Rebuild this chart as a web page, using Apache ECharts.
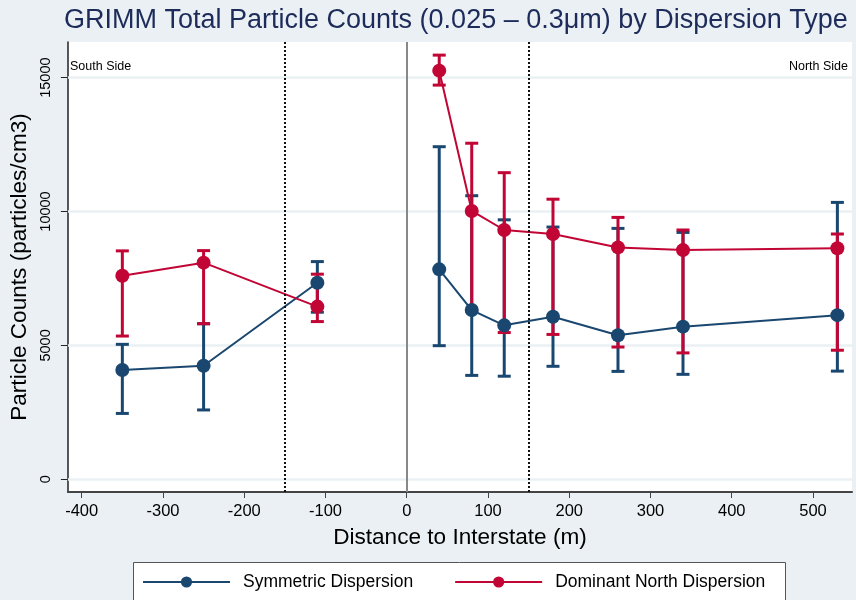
<!DOCTYPE html>
<html>
<head>
<meta charset="utf-8">
<script src="https://cdn.jsdelivr.net/npm/echarts@6/dist/echarts.min.js"></script>
<style>
html,body{margin:0;padding:0;background:#eaf0f3;}
#chart{width:856px;height:600px;}
</style>
</head>
<body>
<div id="chart"></div>
<script>
// Data
const distances = [-350, -250, -110, 40, 80, 120, 180, 260, 340, 530];
const symMean = [4080, 4240, 7340, 7840, 6320, 5750, 6070, 5380, 5700, 6130];
const symLow  = [2460, 2590, 6240, 4990, 3880, 3850, 4220, 4030, 3920, 4040];
const symHigh = [5040, 5810, 8130, 12420, 10590, 9690, 9420, 9370, 9220, 10340];
const domMean = [7600, 8090, 6450, 15260, 10020, 9310, 9160, 8660, 8560, 8630];
const domLow  = [5350, 5810, 5890, 14720, 6280, 5480, 5410, 4940, 4720, 4820];
const domHigh = [8530, 8540, 7660, 15840, 12550, 11450, 10460, 9780, 9310, 9160];
const xTicks = [-400, -300, -200, -100, 0, 100, 200, 300, 400, 500];
const yTicks = [0, 5000, 10000, 15000];
const dividerLines = [-150, 150];
const seriesNames = ['Symmetric Dispersion', 'Dominant North Dispersion'];

const BLUE = '#1a476f';
const RED = '#c10534';
const BG = '#eaf0f3';

function pairs(xs, ys, side) {
  return xs.map((x, i) => [x, ys[i]]).filter(p => side < 0 ? p[0] < 0 : p[0] > 0);
}
function triples(xs, lo, hi) { return xs.map((x, i) => [x, lo[i], hi[i]]); }

function errorBarSeries(name, color, data, z) {
  return {
    name: name,
    type: 'custom',
    data: data,
    encode: { x: 0, y: [1, 2] },
    z: z,
    silent: true,
    renderItem: function (params, api) {
      const x = api.value(0);
      const a = api.coord([x, api.value(1)]);
      const b = api.coord([x, api.value(2)]);
      const hw = 6.5;
      const st = { stroke: color, lineWidth: 3 };
      return {
        type: 'group',
        children: [
          { type: 'line', shape: { x1: a[0], y1: a[1], x2: b[0], y2: b[1] }, style: st },
          { type: 'line', shape: { x1: a[0] - hw, y1: a[1], x2: a[0] + hw, y2: a[1] }, style: st },
          { type: 'line', shape: { x1: b[0] - hw, y1: b[1], x2: b[0] + hw, y2: b[1] }, style: st }
        ]
      };
    }
  };
}

function lineSeries(name, color, data, z) {
  return {
    name: name, type: 'line', data: data, z: z,
    symbol: 'circle', symbolSize: 14,
    lineStyle: { color: color, width: 2 }, itemStyle: { color: color }
  };
}

const chart = echarts.init(document.getElementById('chart'));
const FONT = 'Liberation Sans, Arial, sans-serif';

chart.setOption({
  backgroundColor: BG,
  animation: false,
  textStyle: { fontFamily: FONT },
  title: {
    text: 'GRIMM Total Particle Counts (0.025 \u2013 0.3\u03bcm) by Dispersion Type',
    left: 59, top: 2,
    textStyle: { fontFamily: FONT, fontSize: 27, fontWeight: 'normal', color: '#1c2b5a' }
  },
  grid: { left: 66, right: 4, top: 42, bottom: 108, show: true, backgroundColor: '#ffffff', borderWidth: 0 },
  legend: {
    data: seriesNames,
    left: 142, top: 573, padding: 0,
    itemWidth: 87, itemHeight: 14, itemGap: 41,
    textStyle: { fontFamily: FONT, fontSize: 17.5, color: '#000', padding: [0, 0, 0, 8] }
  },
  graphic: [
    { type: 'rect', left: 133, top: 562, shape: { width: 652, height: 50 }, style: { fill: '#fff', stroke: '#555', lineWidth: 1 }, z: -1 },
    { type: 'text', left: 70, top: 60, style: { text: 'South Side', font: '12.5px ' + FONT, fill: '#000' } },
    { type: 'text', right: 8, top: 60, style: { text: 'North Side', font: '12.5px ' + FONT, fill: '#000' } }
  ],
  xAxis: {
    type: 'value', min: -417, max: 548,
    name: 'Distance to Interstate (m)', nameLocation: 'middle', nameGap: 34,
    nameTextStyle: { fontFamily: FONT, fontSize: 22.6, color: '#000' },
    axisLine: { show: true, onZero: false, lineStyle: { color: '#444', width: 2 } },
    axisTick: { show: true, length: 6, customValues: xTicks, lineStyle: { color: '#444', width: 1 } },
    axisLabel: { customValues: xTicks, margin: 11, fontSize: 16.5, color: '#000', fontFamily: FONT },
    splitLine: { show: false }
  },
  yAxis: {
    type: 'value', min: -474, max: 16330,
    name: 'Particle Counts (particles/cm3)', nameLocation: 'middle', nameGap: 31,
    nameTextStyle: { fontFamily: FONT, fontSize: 22.6, color: '#000' },
    axisLine: { show: true, onZero: false, lineStyle: { color: '#222', width: 1.5 } },
    axisTick: { show: true, length: 7, customValues: yTicks, lineStyle: { color: '#222', width: 1 } },
    axisLabel: { customValues: yTicks, rotate: 90, margin: 14, fontSize: 14.5, color: '#000', fontFamily: FONT,
      formatter: v => String(v) },
    splitLine: { show: false }
  },
  series: [
    {
      name: 'refLines', type: 'line', data: [], silent: true, z: 1,
      markLine: {
        silent: true, symbol: 'none', label: { show: false }, animation: false, z: 1,
        data: yTicks.map(v => ({ yAxis: v, lineStyle: { color: BG, width: 2.5, type: 'solid' } }))
          .concat([{ xAxis: 0, lineStyle: { color: '#888', width: 2, type: 'solid' } }])
      }
    },
    errorBarSeries('symErr', BLUE, triples(distances, symLow, symHigh), 2),
    errorBarSeries('domErr', RED, triples(distances, domLow, domHigh), 3),
    lineSeries(seriesNames[0], BLUE, pairs(distances, symMean, -1), 4),
    lineSeries(seriesNames[0], BLUE, pairs(distances, symMean, 1), 4),
    lineSeries(seriesNames[1], RED, pairs(distances, domMean, -1), 5),
    lineSeries(seriesNames[1], RED, pairs(distances, domMean, 1), 5),
    {
      name: 'dividers', type: 'line', data: [], silent: true, z: 6,
      markLine: {
        silent: true, symbol: 'none', label: { show: false }, animation: false, z: 6,
        data: dividerLines.map(v => ({ xAxis: v, lineStyle: { color: '#111', width: 2, type: [2, 2] } }))
      }
    }
  ]
});
</script>
</body>
</html>
